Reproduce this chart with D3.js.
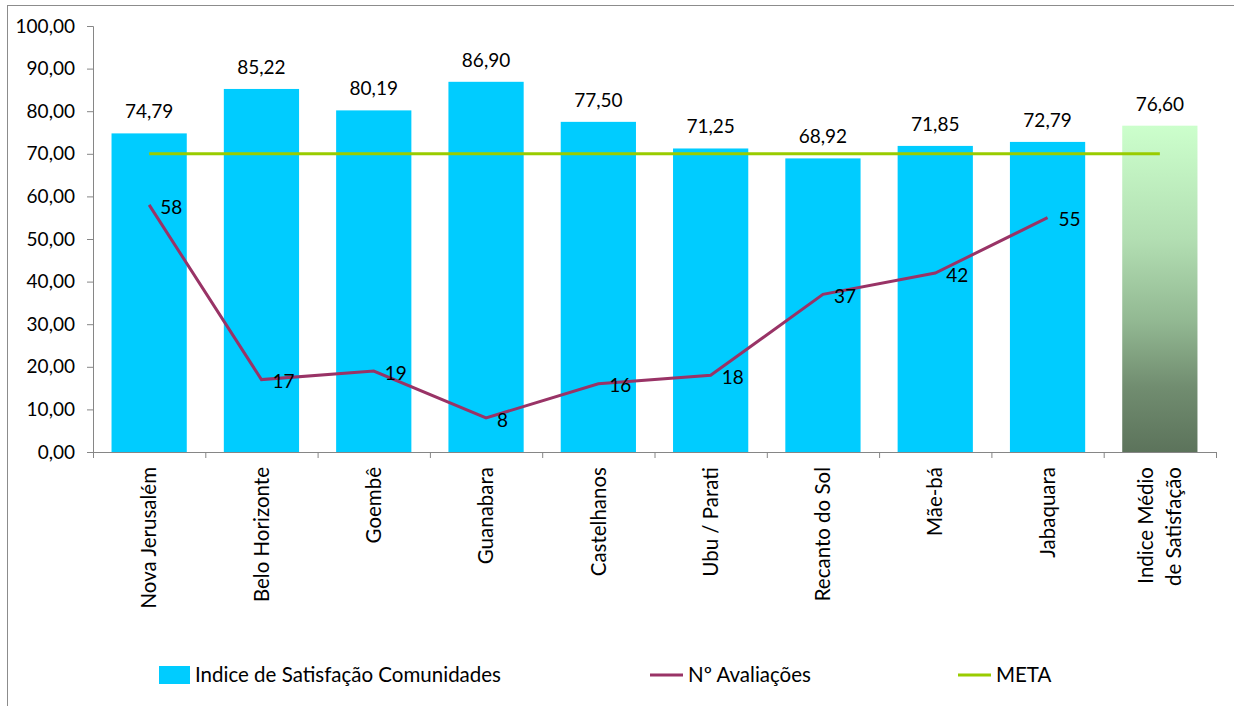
<!DOCTYPE html>
<html>
<head>
<meta charset="utf-8">
<script src="https://cdn.jsdelivr.net/npm/d3@7"></script>
<style>
  html, body { margin: 0; padding: 0; background: #fff; }
  svg { display: block; font-family: Lato, "Open Sans", sans-serif; }
</style>
</head>
<body>
<svg id="chart" width="1234" height="706"></svg>
<script>
// Communities and satisfaction index values
const categories = ["Nova Jerusalém", "Belo Horizonte", "Goembê", "Guanabara", "Castelhanos",
                    "Ubu / Parati", "Recanto do Sol", "Mãe-bá", "Jabaquara", "Indice Médio\nde Satisfação"];
const satisfacao = [74.79, 85.22, 80.19, 86.90, 77.50, 71.25, 68.92, 71.85, 72.79, 76.60];
// Number of evaluations per community (no value for the average column)
const avaliacoes = [58, 17, 19, 8, 16, 18, 37, 42, 55];
// Target level
const metaValue = 70;
const yTicks = [0, 10, 20, 30, 40, 50, 60, 70, 80, 90, 100];

const svg = d3.select("#chart");
const W = 1234, H = 706;
const plotL = 93, plotR = 1216, plotT = 26, plotB = 452;
const fontSize = 19;      // numbers
const textSize = 20.5;    // category names and legend
const axisColor = "#868686";

const ptBR = d3.formatLocale({ decimal: ",", thousands: ".", grouping: [3], currency: ["R$", ""] });
const fmt2 = ptBR.format(".2f");

// outer chart frame
svg.append("rect")
  .attr("x", 7.5).attr("y", 5.5)
  .attr("width", W + 20).attr("height", H + 20)
  .attr("fill", "none").attr("stroke", "#8c8c8c").attr("stroke-width", 1);

const x = d3.scaleBand().domain(categories).range([plotL, plotR]).paddingInner(0.33).paddingOuter(0.165);
const xc = d3.scaleBand().domain(categories).range([plotL, plotR]);
const y = d3.scaleLinear().domain([0, 100]).range([plotB, plotT]);

// gradient for the average column
const defs = svg.append("defs");
const grad = defs.append("linearGradient").attr("id", "avgGrad")
  .attr("x1", 0).attr("y1", 0).attr("x2", 0).attr("y2", 1);
[[0, "#ccffcc"], [0.35, "#b2deb2"], [0.6, "#92b892"], [0.8, "#718d70"], [1, "#5c735b"]]
  .forEach(([o, c]) => grad.append("stop").attr("offset", o).attr("stop-color", c));

// bars
const n = categories.length;
svg.append("g").selectAll("rect").data(categories).join("rect")
  .attr("x", d => x(d))
  .attr("width", x.bandwidth())
  .attr("y", (d, i) => y(satisfacao[i]))
  .attr("height", (d, i) => plotB - y(satisfacao[i]))
  .attr("fill", (d, i) => i === n - 1 ? "url(#avgGrad)" : "#00ccff");

// y axis
const yAxis = svg.append("g").attr("transform", `translate(${plotL},0)`)
  .call(d3.axisLeft(y).tickValues(yTicks).tickFormat(fmt2).tickSize(6).tickPadding(12));
yAxis.select(".domain").attr("stroke", axisColor);
yAxis.selectAll(".tick line").attr("stroke", axisColor);
yAxis.selectAll(".tick text").attr("font-size", fontSize).attr("fill", "#000").attr("font-family", "Lato, sans-serif");

// x axis with ticks on category boundaries
const xAxis = svg.append("g").attr("transform", `translate(0,${plotB})`);
xAxis.append("line").attr("x1", plotL).attr("x2", plotR).attr("y1", 0.5).attr("y2", 0.5).attr("stroke", axisColor);
xAxis.selectAll("line.tk").data(d3.range(n + 1)).join("line").attr("class", "tk")
  .attr("x1", i => plotL + i * xc.bandwidth() + 0.5).attr("x2", i => plotL + i * xc.bandwidth() + 0.5)
  .attr("y1", 0).attr("y2", 6).attr("stroke", axisColor);

// rotated category labels
categories.forEach((c, i) => {
  const cx = xc(c) + xc.bandwidth() / 2;
  const lines = c.split("\n");
  const lh = 28;
  const t = svg.append("text")
    .attr("transform", `translate(${cx},${plotB + 15}) rotate(-90)`)
    .attr("text-anchor", "end")
    .attr("font-size", textSize).attr("fill", "#000");
  lines.forEach((ln, k) => {
    t.append("tspan").attr("x", 0)
      .attr("y", (k - (lines.length - 1) / 2) * lh)
      .attr("dy", "0.35em").text(ln);
  });
});

// bar value labels
svg.append("g").selectAll("text").data(categories).join("text")
  .attr("x", d => x(d) + x.bandwidth() / 2)
  .attr("y", (d, i) => y(satisfacao[i]) - 15)
  .attr("text-anchor", "middle")
  .attr("font-size", fontSize).attr("fill", "#000")
  .text((d, i) => fmt2(satisfacao[i]));

// META line
const cxOf = i => xc(categories[i]) + xc.bandwidth() / 2;
svg.append("line")
  .attr("x1", cxOf(0)).attr("x2", cxOf(n - 1))
  .attr("y1", y(metaValue)).attr("y2", y(metaValue))
  .attr("stroke", "#99cc00").attr("stroke-width", 3);

// evaluations line
const line = d3.line().x((d, i) => cxOf(i)).y(d => y(d));
svg.append("path").datum(avaliacoes)
  .attr("d", line).attr("fill", "none")
  .attr("stroke", "#993366").attr("stroke-width", 3).attr("stroke-linejoin", "miter");

svg.append("g").selectAll("text").data(avaliacoes).join("text")
  .attr("x", (d, i) => cxOf(i) + 11)
  .attr("y", d => y(d) + 2)
  .attr("dy", "0.35em")
  .attr("font-size", fontSize).attr("fill", "#000")
  .text(d => d);

// legend
const lg = svg.append("g").attr("font-size", textSize);
lg.append("rect").attr("x", 159).attr("y", 666).attr("width", 31).attr("height", 18).attr("fill", "#00ccff");
lg.append("text").attr("x", 195).attr("y", 675).attr("dy", "0.35em").text("Indice de Satisfação Comunidades");
lg.append("line").attr("x1", 650).attr("x2", 683).attr("y1", 675).attr("y2", 675).attr("stroke", "#993366").attr("stroke-width", 3);
lg.append("text").attr("x", 688).attr("y", 675).attr("dy", "0.35em").text("Nº Avaliações");
lg.append("line").attr("x1", 958).attr("x2", 991).attr("y1", 675).attr("y2", 675).attr("stroke", "#99cc00").attr("stroke-width", 3);
lg.append("text").attr("x", 996).attr("y", 675).attr("dy", "0.35em").text("META");
</script>
</body>
</html>
